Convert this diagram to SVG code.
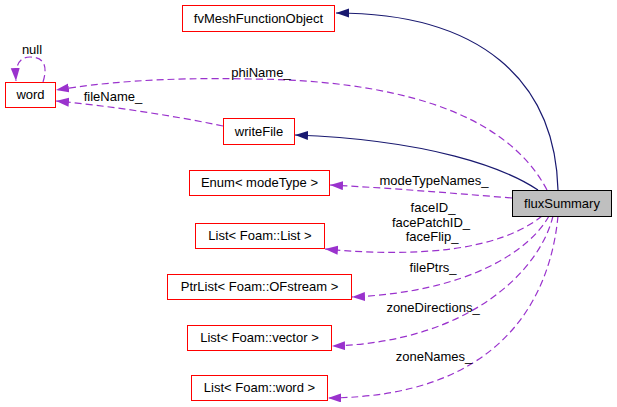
<svg xmlns="http://www.w3.org/2000/svg" width="617" height="407" viewBox="0 0 617 407">
<defs>
<style>
text{font-family:"Liberation Sans",Arial,sans-serif;font-size:13px;fill:#000;text-anchor:middle}
.n{fill:#fff;stroke:#ff0000;stroke-width:1}
.m{fill:#bfbfbf;stroke:#000;stroke-width:1}
.inh{fill:none;stroke:#191970;stroke-width:1.2}
.use{fill:none;stroke:#9a32cd;stroke-width:1.2;stroke-dasharray:7,4}
</style>
<marker id="an" markerUnits="userSpaceOnUse" markerWidth="13" markerHeight="10" refX="13" refY="4.5" orient="auto"><path d="M0,0 L13,4.5 L0,9 z" fill="#191970"/></marker>
<marker id="ap" markerUnits="userSpaceOnUse" markerWidth="13" markerHeight="10" refX="13" refY="4.5" orient="auto"><path d="M0,0 L13,4.5 L0,9 z" fill="#9a32cd"/></marker>
</defs>
<rect width="617" height="407" fill="#fff"/>
<g id="edges">
<path class="inh" d="M558,190 C555,80 480,13 336,13" marker-end="url(#an)"/>
<path class="inh" d="M538,190 C505,168 430,140 295,135" marker-end="url(#an)"/>
<path class="use" d="M547,190 C505,110 390,80 250,79 C160,77 100,83 56,90" marker-end="url(#ap)"/>
<text x="261" y="77">phiName_</text>
<path class="use" d="M223,126 C170,115 110,106 56,101" marker-end="url(#ap)"/>
<text x="113" y="101">fileName_</text>
<path class="use" d="M43,82 C48,66 44,57 30,57 C20,57 15,64 16,81" marker-end="url(#ap)"/>
<text x="32" y="54">null</text>
<path class="use" d="M512,198 C450,193 390,188 330,185" marker-end="url(#ap)"/>
<text x="434" y="185">modeTypeNames_</text>
<path class="use" d="M542,216 C500,250 420,258 325,249" marker-end="url(#ap)"/>
<text x="433" y="212">faceID_</text>
<text x="431" y="227">facePatchID_</text>
<text x="432" y="241">faceFlip_</text>
<path class="use" d="M549,216 C530,250 470,292 352,297" marker-end="url(#ap)"/>
<text x="433" y="272">filePtrs_</text>
<path class="use" d="M553,216 C540,270 470,342 332,346" marker-end="url(#ap)"/>
<text x="433" y="312">zoneDirections_</text>
<path class="use" d="M558,216 C550,300 500,397 328,398" marker-end="url(#ap)"/>
<text x="434" y="361">zoneNames_</text>
</g>
<g id="fvMeshFunctionObject"><rect class="n" x="182.5" y="5.5" width="152" height="26"/><text x="258.5" y="23">fvMeshFunctionObject</text></g>
<g id="word"><rect class="n" x="5.5" y="82.5" width="50" height="25"/><text x="30.5" y="99">word</text></g>
<g id="writeFile"><rect class="n" x="223.5" y="118.5" width="71" height="26"/><text x="259" y="136">writeFile</text></g>
<g id="fluxSummary"><rect class="m" x="512.5" y="190.5" width="99" height="26"/><text x="562" y="208">fluxSummary</text></g>
<g id="enumModeType"><rect class="n" x="189.5" y="170.5" width="140" height="25"/><text x="259.5" y="187">Enum&lt; modeType &gt;</text></g>
<g id="listFoamList"><rect class="n" x="195.5" y="223.5" width="129" height="25"/><text x="260" y="240">List&lt; Foam::List &gt;</text></g>
<g id="ptrListOFstream"><rect class="n" x="167.5" y="274.5" width="184" height="25"/><text x="259.5" y="291">PtrList&lt; Foam::OFstream &gt;</text></g>
<g id="listFoamVector"><rect class="n" x="187.5" y="325.5" width="144" height="25"/><text x="259.5" y="342">List&lt; Foam::vector &gt;</text></g>
<g id="listFoamWord"><rect class="n" x="191.5" y="375.5" width="136" height="25"/><text x="259.5" y="392">List&lt; Foam::word &gt;</text></g>
</svg>
